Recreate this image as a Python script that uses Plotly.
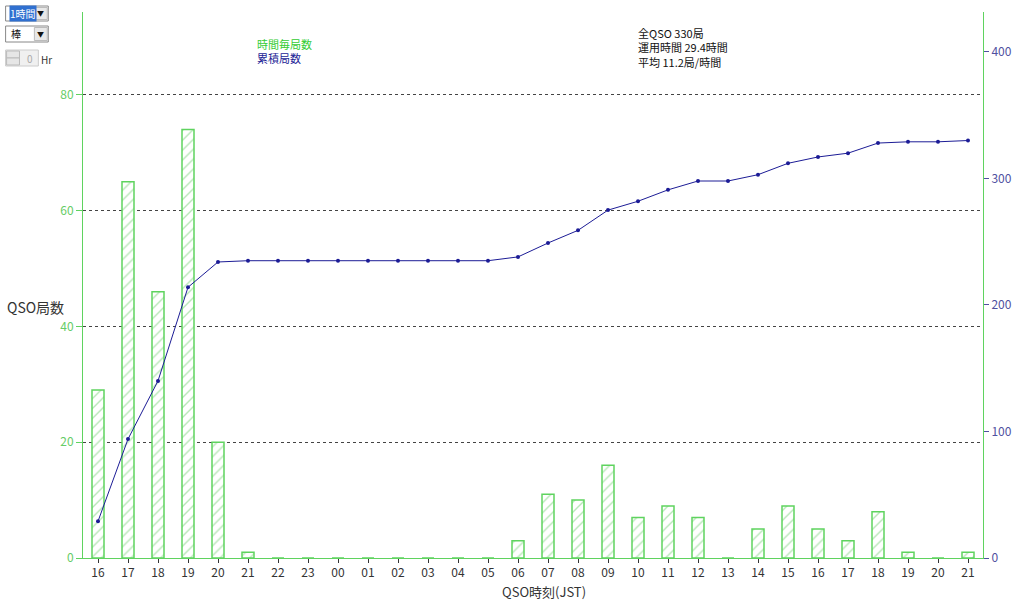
import plotly.graph_objects as go

hours = ["16", "17", "18", "19", "20", "21", "22", "23", "00", "01", "02", "03", "04", "05",
         "06", "07", "08", "09", "10", "11", "12", "13", "14", "15", "16", "17", "18", "19", "20", "21"]
qso_per_hour = [29, 65, 46, 74, 20, 1, 0, 0, 0, 0, 0, 0, 0, 0,
                3, 11, 10, 16, 7, 9, 7, 0, 5, 9, 5, 3, 8, 1, 0, 1]
cumulative = [29, 94, 140, 214, 234, 235, 235, 235, 235, 235, 235, 235, 235, 235,
              238, 249, 259, 275, 282, 291, 298, 298, 303, 312, 317, 320, 328, 329, 329, 330]
left_ticks = [0, 20, 40, 60, 80]
right_ticks = [0, 100, 200, 300, 400]

FONT = "Noto Sans CJK JP"
GREEN = "#5fd35f"
BLUE = "#1c1c96"

L, R, T, B = 83, 990, 12, 558
W, H = 1024, 600
def px(x):
    return (x - L) / (R - L)
def py(y):
    return (B - y) / (B - T)

xs = list(range(len(hours)))

fig = go.Figure()
fig.add_trace(go.Bar(
    x=xs, y=qso_per_hour, width=0.4, name="時間毎局数",
    marker=dict(color="white", line=dict(color=GREEN, width=1.5),
                pattern=dict(shape="/", fgcolor="#6fcf6f", bgcolor="white", size=7, solidity=0.2)),
    yaxis="y",
))
fig.add_trace(go.Scatter(
    x=xs, y=cumulative, mode="lines+markers", name="累積局数",
    line=dict(color=BLUE, width=1), marker=dict(color=BLUE, size=4),
    yaxis="y2",
))

fig.update_layout(
    width=W, height=H,
    margin=dict(l=L, r=W - R, t=T, b=H - B),
    plot_bgcolor="white", paper_bgcolor="white",
    showlegend=False,
    font=dict(family=FONT, size=12, color="#333"),
    xaxis=dict(range=[-0.5, 29.5], tickvals=xs, ticktext=hours, showgrid=False,
               showline=True, linecolor=GREEN, linewidth=1, ticks="outside", ticklen=4,
               tickcolor="#333", tickfont=dict(size=12, color="#333", family=FONT), zeroline=False),
    yaxis=dict(range=[0, 94.3], tickvals=left_ticks, showgrid=True, gridcolor="#444",
               griddash="dot", gridwidth=1, showline=True, linecolor=GREEN, linewidth=1,
               ticks="outside", ticklen=6, tickcolor=GREEN,
               tickfont=dict(size=12, color="#66cc66", family=FONT), zeroline=False),
    yaxis2=dict(range=[0, 431.6], tickvals=right_ticks, overlaying="y", side="right",
                showgrid=False, showline=True, linecolor=GREEN, linewidth=1,
                ticks="outside", ticklen=5, tickcolor="#5050a0",
                tickfont=dict(size=12, color="#5050a0", family=FONT), zeroline=False),
)

ann = []
def text(x, y, s, color, size=12, xanchor="left", yanchor="middle", **kw):
    ann.append(dict(x=px(x), y=py(y), xref="paper", yref="paper", xanchor=xanchor, yanchor=yanchor,
                    text=s, showarrow=False, font=dict(color=color, size=size, family=FONT), **kw))

text(256, 51.5, "<span style='color:#33cc33'>時間毎局数</span><br>"
                "<span style='color:#1c1c96'>累積局数</span>", "#333", size=11, align="left")
text(640, 47.5, "全QSO 330局<br>運用時間 29.4時間<br>平均 11.2局/時間", "#111", size=11, align="left")
text(4, 307, "QSO局数", "#333", size=14)
text(548, 591, "QSO時刻(JST)", "#333", size=13, xanchor="center")
# UI controls (top-left)
text(8, 13.5, "1時間", "white", size=10, bgcolor="#3070d0", borderpad=0)
text(8, 34, "棒", "#111", size=10)
text(35, 58, "0", "#aaa", size=10, xanchor="right")
text(39, 59, "Hr", "#333", size=10)
text(40.5, 13.5, "▼", "#111", size=7, xanchor="center")
text(40.5, 34, "▼", "#111", size=7, xanchor="center")

shapes = []
def rect(x0, y0, x1, y1, line="#999", fill=None, w=1):
    shapes.append(dict(type="rect", xref="paper", yref="paper", x0=px(x0), x1=px(x1),
                       y0=py(y1), y1=py(y0), line=dict(color=line, width=w),
                       fillcolor=fill if fill else "rgba(0,0,0,0)", layer="above"))
rect(5, 6, 48, 21, line="#888")
rect(34, 7.5, 47, 19.5, line="#bbb", fill="#e8e8e8")
rect(5, 26, 48, 42, line="#888")
rect(34, 27.5, 47, 40.5, line="#bbb", fill="#e8e8e8")
rect(5, 50, 38, 66, line="#ccc", fill="#f0f0f0")
rect(6, 51, 19, 58, line="#bbb", fill="#e6e6e6")
rect(6, 58, 19, 65, line="#bbb", fill="#e6e6e6")

fig.update_layout(annotations=ann, shapes=shapes)
fig.write_html("out.html", config={"displayModeBar": False},
               post_script="document.body.style.margin='0';")
